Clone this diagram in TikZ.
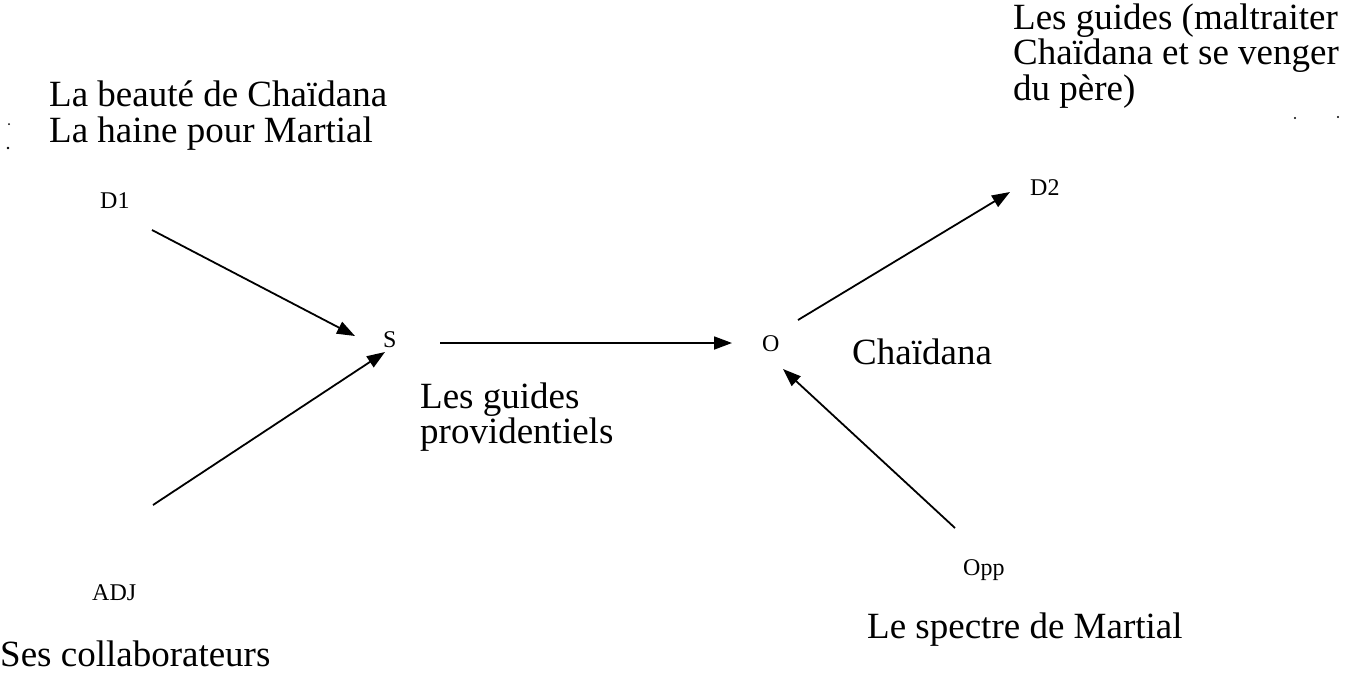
\documentclass[tikz,border=0pt]{standalone}
\usepackage{fontspec}
\setmainfont{Liberation Serif}
\usetikzlibrary{arrows.meta}

\begin{document}
\begin{tikzpicture}[x=1pt,y=-1pt,
  big/.style={font=\fontsize{37}{36}\selectfont, inner sep=0pt, anchor=base west},
  topright/.style={font=\fontsize{37}{35}\selectfont, inner sep=0pt, anchor=base west},
  actant/.style={font=\fontsize{24}{24}\selectfont, inner sep=0pt, anchor=base west},
  link/.style={line width=1.8pt, -{Triangle[length=18pt,width=13pt]}},
  speck/.style={fill=black, draw=none}
]
\clip (0,0) rectangle (1357,677);
\useasboundingbox (0,0) rectangle (1357,677);

% actants
\node[actant] (d1)  at (100,208) {D1};
\node[actant] (s)   at (383,347) {S};
\node[actant] (o)   at (762,351) {O};
\node[actant] (d2)  at (1030,195) {D2};
\node[actant] (adj) at (92,600)  {ADJ};
\node[actant] (opp) at (963,575) {Opp};

% descriptions
\node[big] (d1a) at (49,106) {La beauté de Chaïdana};
\node[big] (d1b) at (49,142) {La haine pour Martial};
\node[big] (sa)  at (420,408) {Les guides};
\node[big] (sb)  at (420,443) {providentiels};
\node[big] (oa)  at (852,364) {Chaïdana};
\node[big] (adja) at (0,666) {Ses collaborateurs};
\node[big] (oppa) at (867,638) {Le spectre de Martial};
\node[topright] (d2a) at (1013,30)  {Les guides (maltraiter};
\node[topright] (d2b) at (1013,65)  {Chaïdana et se venger};
\node[topright] (d2c) at (1013,100) {du père)};

% arrow end points
\coordinate (d1tail)  at (152,230);
\coordinate (d1head)  at (355,336);
\coordinate (adjtail) at (153,505);
\coordinate (adjhead) at (385,352);
\coordinate (stail)   at (440,343);
\coordinate (shead)   at (732,343);
\coordinate (otail)   at (798,320);
\coordinate (ohead)   at (1010,192);
\coordinate (opptail) at (955,528);
\coordinate (opphead) at (783,369);

\draw[link] (d1tail) -- (d1head);
\draw[link] (adjtail) -- (adjhead);
\draw[link] (stail) -- (shead);
\draw[link] (otail) -- (ohead);
\draw[link] (opptail) -- (opphead);

% small specks
\fill[speck] (9,124) circle (1pt);
\fill[speck] (8,148) circle (1.3pt);
\fill[speck] (1295,118) circle (1.2pt);
\fill[speck] (1338,117) circle (1.2pt);
\end{tikzpicture}
\end{document}
